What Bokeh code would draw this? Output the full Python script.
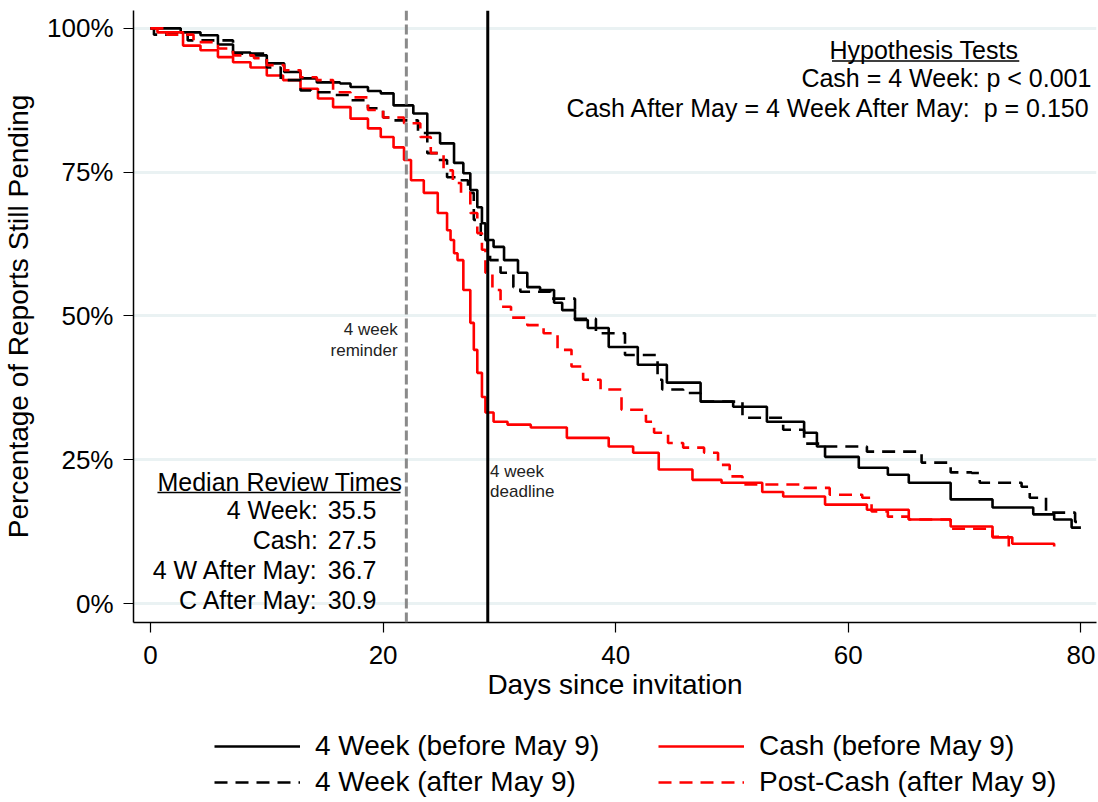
from bokeh.plotting import figure
from bokeh.models import Range1d, FixedTicker, Span, Label, Legend, LegendItem
from bokeh.layouts import column
from bokeh.embed import file_html
from bokeh.resources import INLINE

# ---------------- data ----------------
wk4_before_days = [0, 2.6, 4.3, 5.8, 7.1, 8.6, 10.0, 11.5, 12.9, 14.3, 16.3, 17.2, 18.7, 19.8, 20.9,
                   22.6, 23.8, 24.9, 26.1, 26.9, 27.5, 28.1, 28.5, 28.8, 29.5, 30.4, 31.6, 32.4, 33.5,
                   34.7, 35.4, 36.5, 37.6, 39.4, 41.9, 44.4, 47.3, 50.1, 53.0, 56.2, 57.3, 58.0, 60.9,
                   63.4, 65.2, 68.8, 72.4, 75.9, 77.7, 79.2, 80.0]
wk4_before_pct = [100, 99.3, 98.8, 97.2, 95.8, 95.3, 93.9, 92.4, 91.3, 90.6, 90.4, 89.8, 89.1, 88.7, 86.6,
                  85.2, 81.8, 80.0, 76.6, 74.8, 71.9, 68.9, 66.1, 63.2, 62.0, 59.7, 57.5, 55.0, 54.5,
                  52.3, 51.0, 49.3, 47.9, 44.6, 41.5, 38.4, 35.1, 34.2, 31.6, 29.7, 27.3, 25.5, 23.6,
                  22.4, 21.0, 18.1, 16.7, 15.5, 14.6, 13.2, 13.2]

wk4_after_days = [0, 0.3, 3.2, 7.1, 10.0, 11.2, 12.9, 13.8, 15.7, 17.2, 18.7, 20.0, 20.6, 23.0, 23.8,
                  24.7, 25.5, 26.4, 27.3, 27.8, 28.4, 29.0, 29.2, 30.1, 31.2, 31.8, 34.4, 36.5, 38.3,
                  40.8, 43.6, 44.0, 45.8, 47.3, 50.9, 54.4, 56.2, 58.0, 61.6, 66.0, 66.3, 68.8, 70.6,
                  71.3, 74.9, 75.6, 77.0, 79.5, 79.9]
wk4_after_pct = [100, 98.9, 97.9, 95.6, 93.2, 91.0, 89.2, 88.9, 88.4, 87.5, 86.1, 84.5, 84.0, 81.8, 78.3,
                 77.1, 74.1, 73.6, 71.4, 66.7, 63.2, 61.5, 59.7, 57.5, 55.0, 54.2, 53.0, 49.5, 47.0,
                 43.2, 38.9, 37.2, 36.6, 35.1, 32.3, 30.2, 27.8, 27.3, 26.4, 26.0, 24.5, 22.8, 22.7,
                 21.0, 20.3, 18.4, 15.8, 14.2, 14.2]

cash_before_days = [0, 0.6, 2.8, 4.3, 5.8, 7.1, 8.6, 10.0, 11.4, 12.9, 14.4, 15.7, 17.2, 18.7, 19.8,
                    20.9, 21.8, 22.4, 23.5, 24.7, 25.5, 25.8, 26.1, 26.4, 26.9, 27.5, 27.8, 28.1, 28.5,
                    28.8, 29.5, 30.7, 32.7, 35.8, 39.4, 41.5, 43.7, 46.6, 49.1, 52.6, 54.4, 58.0, 61.6,
                    65.2, 68.8, 72.4, 74.1, 77.7]
cash_before_pct = [100, 99.3, 97.0, 96.2, 95.0, 94.1, 93.2, 91.8, 91.0, 89.5, 87.8, 86.3, 84.3, 82.6, 81.1,
                   79.3, 77.1, 73.6, 71.4, 67.9, 64.9, 63.2, 60.9, 59.7, 54.5, 48.8, 44.1, 40.1, 35.9,
                   33.2, 31.6, 31.1, 30.6, 28.8, 27.3, 26.2, 23.3, 21.5, 21.0, 19.4, 18.6, 17.2, 16.3,
                   14.6, 13.4, 11.5, 10.4, 9.9]

postcash_after_days = [0, 1.4, 3.7, 5.8, 7.1, 8.9, 10.0, 11.5, 12.9, 14.3, 15.7, 17.2, 18.7, 20.0, 21.8,
                       23.2, 24.1, 25.2, 26.0, 26.7, 27.5, 28.1, 28.5, 28.8, 29.4, 30.1, 31.0, 32.4, 33.8,
                       35.0, 36.2, 37.2, 38.7, 40.5, 42.6, 43.3, 44.5, 45.8, 47.6, 48.8, 49.8, 50.9, 56.2,
                       58.4, 61.2, 62.0, 63.4, 65.2, 68.8, 72.4, 73.8]
postcash_after_pct = [100, 98.9, 97.6, 96.5, 95.3, 94.8, 93.6, 92.7, 91.5, 91.0, 88.9, 88.0, 85.8, 84.5, 83.5,
                      81.1, 78.3, 75.3, 73.1, 71.4, 67.9, 64.4, 61.5, 57.5, 54.5, 51.6, 49.7, 48.4, 47.0,
                      44.1, 41.2, 38.9, 37.2, 33.7, 31.6, 29.7, 27.9, 27.1, 26.2, 24.1, 22.1, 20.7, 20.1,
                      18.9, 18.4, 16.0, 15.1, 14.6, 13.0, 11.6, 9.9]

series_names = ["4 Week (before May 9)", "Cash (before May 9)",
                "4 Week (after May 9)", "Post-Cash (after May 9)"]

x_ticks = [0, 20, 40, 60, 80]
y_ticks = [0, 25, 50, 75, 100]
y_tick_labels = ["0%", "25%", "50%", "75%", "100%"]

reminder_day = 22
deadline_day = 29

median_labels = ["4 Week:", "Cash:", "4 W After May:", "C After May:"]
median_values = ["35.5", "27.5", "36.7", "30.9"]
hyp_lines = ["Cash = 4 Week: p < 0.001", "Cash After May = 4 Week After May:\u00a0\u00a0p = 0.150"]

# ---------------- styles ----------------
FONT = "Liberation Sans"
RED = "#ff0000"
styles = [dict(line_color="black", line_width=2.6),
          dict(line_color=RED, line_width=2.6),
          dict(line_color="black", line_width=2.6, line_dash="13 8"),
          dict(line_color=RED, line_width=2.6, line_dash="13 8")]
series = [(wk4_before_days, wk4_before_pct), (cash_before_days, cash_before_pct),
          (wk4_after_days, wk4_after_pct), (postcash_after_days, postcash_after_pct)]

# ---------------- main figure ----------------
p = figure(width=1098, height=715, output_backend="svg", toolbar_location=None,
           x_range=Range1d(-1.46, 81.34), y_range=Range1d(-3.3, 103.1),
           min_border_left=133, min_border_right=2, min_border_top=10, min_border_bottom=93)
p.outline_line_color = None
p.background_fill_color = "white"
p.border_fill_color = "white"

p.xgrid.visible = False
p.ygrid.grid_line_color = "#eaf2f3"
p.ygrid.grid_line_width = 3

p.xaxis.ticker = FixedTicker(ticks=x_ticks)
p.yaxis.ticker = FixedTicker(ticks=y_ticks)
p.yaxis.major_label_overrides = {t: l for t, l in zip(y_ticks, y_tick_labels)}

for ax in (p.xaxis[0], p.yaxis[0]):
    ax.axis_line_color = "black"
    ax.axis_line_width = 1.5
    ax.major_tick_line_color = "black"
    ax.major_tick_line_width = 1.2
    ax.major_tick_in = 0
    ax.major_tick_out = 10
    ax.minor_tick_line_color = None
    ax.major_label_text_font = FONT
    ax.major_label_text_font_size = "26px"
    ax.major_label_text_color = "black"
    ax.axis_label_text_font = FONT
    ax.axis_label_text_font_size = "28px"
    ax.axis_label_text_font_style = "normal"
    ax.axis_label_text_color = "black"

p.xaxis.axis_label = "Days since invitation"
p.yaxis.axis_label = "Percentage of Reports Still Pending"
p.xaxis.major_label_standoff = 13
p.xaxis.axis_label_standoff = 2
p.yaxis.major_label_standoff = 10
p.yaxis.axis_label_standoff = 10

# reference lines
p.add_layout(Span(location=reminder_day, dimension="height", line_color="#8a8a8a",
                  line_width=3, line_dash="10 4"))
p.add_layout(Span(location=deadline_day, dimension="height", line_color="black", line_width=3))

# survival curves
for (xs, ys), s in zip(series, styles):
    p.step(xs, ys, mode="after", **s)

# annotations
def lab(x, y, text, size, align="left", color="black"):
    p.add_layout(Label(x=x, y=y, text=text, text_font=FONT, text_font_size=size,
                       text_align=align, text_baseline="middle", text_color=color))

lab(21.25, 47.6, "4 week", "17px", "right", "#222222")
lab(21.25, 44.0, "reminder", "17px", "right", "#222222")
lab(29.2, 22.9, "4 week", "17px", "left", "#222222")
lab(29.2, 19.4, "deadline", "17px", "left", "#222222")

# median review times box
lab(0.6, 21.2, "Median Review Times", "25px", "left")
p.line([0.6, 21.5], [19.3, 19.3], line_color="black", line_width=1.5)
for i, (t, v) in enumerate(zip(median_labels, median_values)):
    yy = 16.2 - i * 5.2
    lab(14.4, yy, t, "25px", "right")
    lab(15.25, yy, v, "25px", "left")

# hypothesis tests box
lab(66.5, 96.3, "Hypothesis Tests", "25px", "center")
p.line([58.6, 74.7], [94.3, 94.3], line_color="black", line_width=1.5)
lab(80.9, 91.3, hyp_lines[0], "25px", "right")
lab(80.9, 86.1, hyp_lines[1], "25px", "right")

# ---------------- legend strip ----------------
# same series drawn outside the visible range so that only the legend shows
q = figure(width=1098, height=87, output_backend="svg", toolbar_location=None,
           x_range=Range1d(0, 1), y_range=Range1d(-1000, -999), x_axis_type=None, y_axis_type=None,
           min_border=0)
q.outline_line_color = None
q.grid.visible = False
hidden = [q.step(xs, ys, mode="after", **s) for (xs, ys), s in zip(series, styles)]
legend = Legend(items=[LegendItem(label=series_names[i], renderers=[hidden[i]]) for i in range(4)],
                orientation="horizontal", ncols=2, location=(81, 4),
                label_text_font=FONT, label_text_font_size="28px", label_text_color="black",
                glyph_width=86, glyph_height=20, label_width=339, label_standoff=15,
                spacing=4, padding=0, margin=0,
                border_line_color=None, background_fill_alpha=0)
q.add_layout(legend)

open("out.html", "w").write(file_html(column(p, q, spacing=0), INLINE))
